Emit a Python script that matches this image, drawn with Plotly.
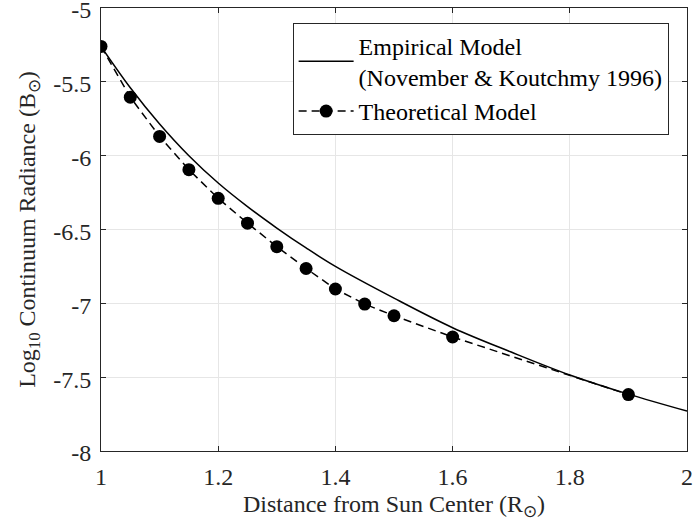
import plotly.graph_objects as go

# Empirical model (November & Koutchmy 1996)
emp_x = [1.0, 1.05, 1.1, 1.15, 1.2, 1.25, 1.3, 1.35, 1.4, 1.5, 1.6, 1.7, 1.8, 1.9, 2.0]
emp_y = [-5.26, -5.54, -5.785, -6.00, -6.185, -6.345, -6.49, -6.625, -6.75, -6.965,
         -7.165, -7.33, -7.485, -7.615, -7.73]

# Theoretical model points
th_x = [1.0, 1.05, 1.1, 1.15, 1.2, 1.25, 1.3, 1.35, 1.4, 1.45, 1.5, 1.6, 1.9]
th_y = [-5.26, -5.604, -5.870, -6.095, -6.289, -6.457, -6.616, -6.764, -6.903,
        -7.005, -7.084, -7.228, -7.618]

x_ticks = [1, 1.2, 1.4, 1.6, 1.8, 2]
x_tick_text = ["1", "1.2", "1.4", "1.6", "1.8", "2"]
y_ticks = [-8, -7.5, -7, -6.5, -6, -5.5, -5]
y_tick_text = ["-8", "-7.5", "-7", "-6.5", "-6", "-5.5", "-5"]

FONT = "Liberation Serif, Times New Roman, serif"
TXT = "#262626"

fig = go.Figure()
fig.add_trace(go.Scatter(
    x=emp_x, y=emp_y, mode="lines", line=dict(color="black", width=1.5, shape="spline", smoothing=1.0),
    name="Empirical Model<br>(November & Koutchmy 1996)"))
fig.add_trace(go.Scatter(
    x=th_x, y=th_y, mode="lines+markers",
    line=dict(color="black", width=1.5, dash="8px,5px"),
    marker=dict(color="black", size=13),
    name="Theoretical Model"))

axis_common = dict(
    showline=True, linecolor=TXT, linewidth=1, mirror="ticks",
    ticks="inside", ticklen=5, tickcolor=TXT,
    showgrid=True, gridcolor="#e6e6e6", gridwidth=1, zeroline=False,
    tickfont=dict(family=FONT, size=24, color=TXT),
    ticklabeloverflow="allow", automargin=False,
)

fig.update_layout(
    width=693, height=531,
    margin=dict(l=101, r=6, t=8, b=80, autoexpand=False),
    paper_bgcolor="white", plot_bgcolor="white",
    font=dict(family=FONT, size=24, color=TXT),
    showlegend=True,
    legend=dict(
        x=0.327, y=0.967, xanchor="left", yanchor="top",
        bgcolor="white", bordercolor=TXT, borderwidth=1,
        font=dict(family=FONT, size=24, color="black"),
        tracegroupgap=0, itemwidth=55,
    ),
    xaxis=dict(range=[1, 2], tickvals=x_ticks, ticktext=x_tick_text,
               ticklabelstandoff=4,
               title=dict(text="Distance from Sun Center (R<sub>⊙</sub>)",
                          font=dict(family=FONT, size=24, color=TXT), standoff=6),
               **axis_common),
    yaxis=dict(range=[-8, -5], tickvals=y_ticks, ticktext=y_tick_text,
               ticklabelstandoff=4, ticklabelshift=2,
               title=dict(text="Log<sub>10</sub> Continuum Radiance (B<sub>⊙</sub>)",
                          font=dict(family=FONT, size=24, color=TXT), standoff=10),
               **axis_common),
)

fig.write_html("out.html", config={"displayModeBar": False},
               post_script="document.body.style.margin='0';document.body.style.padding='0';")
